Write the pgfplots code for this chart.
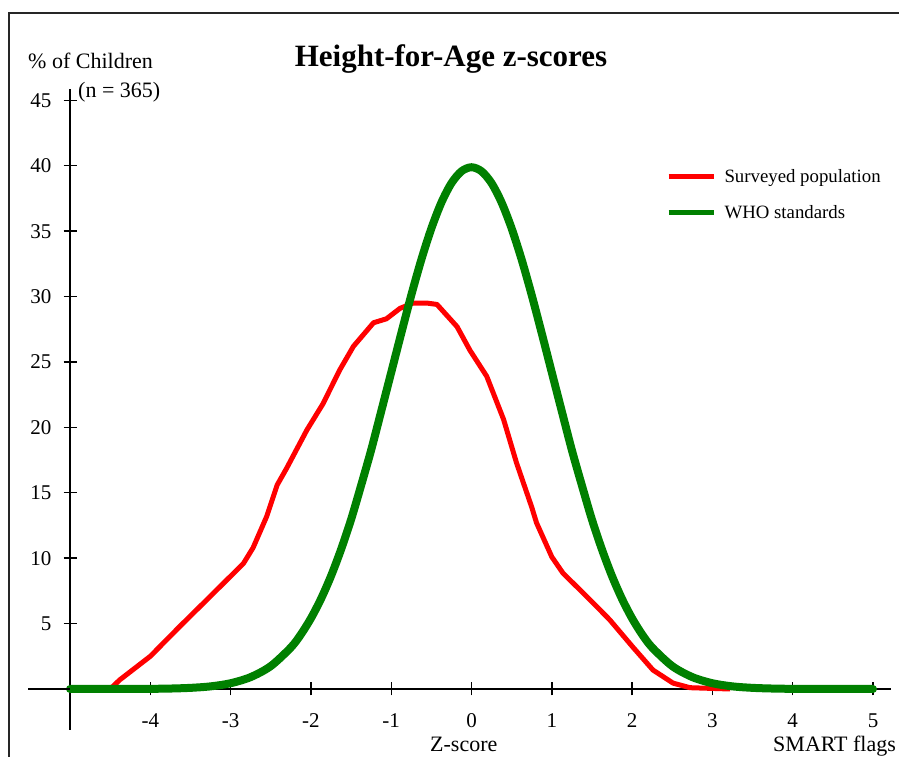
\documentclass[border=0pt]{standalone}
\usepackage{fontspec}
\setmainfont{Liberation Serif}
\usepackage{pgfplots}
\pgfplotsset{compat=1.18}
\definecolor{survred}{RGB}{255,0,0}
\definecolor{whogreen}{RGB}{0,128,0}
\begin{document}
\begin{tikzpicture}[x=1pt,y=1pt]
\path[use as bounding box] (0,0) rectangle (899,757);
% frame
\draw[line width=2pt, black!85] (8.5,0) -- (8.5,744) -- (899,744);
\begin{axis}[
  at={(471.5pt,68pt)}, anchor=origin,
  x=80.3pt, y=13.08pt,
  xmin=-5, xmax=5.22, ymin=-3.13, ymax=45.87,
  axis x line=middle, axis y line=left,
  axis line style={-, line width=1.6pt, black},
  clip=false,
  xtick={-4,-3,-2,-1,0,1,2,3,4,5},
  ytick={5,10,15,20,25,30,35,40,45},
  minor tick num=0,
  tick align=center,
  major tick length=13pt,
  tick style={line width=1.4pt, black},
  ticklabel style={font=\fontsize{21}{24}\selectfont},
  xticklabel style={yshift=-15pt},
  yticklabel style={xshift=-8.5pt},
  /pgf/number format/assume math mode=true,
  legend style={at={(axis cs:2.42,37.8)}, anchor=west, draw=none, fill=none,
    font=\fontsize{18.8}{22}\selectfont, row sep=17pt, inner sep=0pt},
  legend cell align=left,
  legend image code/.code={\draw[#1, line width=5pt, line cap=butt] (0pt,0pt) -- (45pt,0pt);
    \path (50pt,0pt);},
]
\addplot[survred, line width=5pt, line join=round] coordinates {
(-4.50,0) (-4.38,0.7) (-4.00,2.5) (-3.63,4.8) (-3.25,7.1) (-2.84,9.6)
(-2.72,10.8) (-2.55,13.2) (-2.42,15.6) (-2.30,16.9) (-2.05,19.8)
(-1.85,21.8) (-1.64,24.4) (-1.47,26.2) (-1.22,28.0) (-1.06,28.3)
(-0.89,29.1) (-0.73,29.5) (-0.55,29.5) (-0.43,29.4) (-0.18,27.7)
(-0.02,25.9) (0.19,23.9) (0.40,20.6) (0.56,17.3) (0.75,13.9) (0.81,12.7)
(1.00,10.1) (1.14,8.85) (1.43,7.1) (1.72,5.3) (2.01,3.2) (2.26,1.45)
(2.51,0.45) (2.72,0.1) (3.22,0)
};
\addlegendentry{Surveyed population}
\addplot[whogreen, line width=8pt, smooth, line cap=round] coordinates {
(-5,0) (-4.5,0.002) (-4,0.013) (-3.75,0.035) (-3.5,0.087) (-3.25,0.20)
(-3,0.44) (-2.75,0.91) (-2.5,1.75) (-2.25,3.17) (-2.125,4.17) (-2,5.40)
(-1.875,6.88) (-1.75,8.63) (-1.625,10.66) (-1.5,12.95) (-1.375,15.56)
(-1.25,18.26) (-1.125,21.22) (-1,24.20) (-0.875,27.19) (-0.75,30.11)
(-0.625,32.82) (-0.5,35.21) (-0.375,37.19) (-0.25,38.67) (-0.125,39.58)
(0,39.89) (0.125,39.58) (0.25,38.67) (0.375,37.19) (0.5,35.21)
(0.625,32.82) (0.75,30.11) (0.875,27.19) (1,24.20) (1.125,21.22)
(1.25,18.26) (1.375,15.56) (1.5,12.95) (1.625,10.66) (1.75,8.63)
(1.875,6.88) (2,5.40) (2.125,4.17) (2.25,3.17) (2.5,1.75) (2.75,0.91)
(3,0.44) (3.25,0.20) (3.5,0.087) (3.75,0.035) (4,0.013) (4.5,0.002) (5,0)
};
\addlegendentry{WHO standards}
% x axis line continues left of the y axis
\draw[line width=1.6pt, black] (axis cs:-5.52,0) -- (axis cs:-5,0);
\end{axis}
\node[anchor=base, inner sep=0pt] at (451,690)
  {\fontsize{31}{36}\selectfont\bfseries Height-for-Age z-scores};
\node[anchor=base west, inner sep=0pt] at (28,688)
  {\fontsize{22}{26}\selectfont \% of Children};
\node[anchor=base west, inner sep=0pt] at (78,659)
  {\fontsize{22}{26}\selectfont (n = 365)};
\node[anchor=base west, inner sep=0pt] at (430,5.5)
  {\fontsize{22}{26}\selectfont Z-score};
\node[anchor=base west, inner sep=0pt] at (773,5.5)
  {\fontsize{22}{26}\selectfont SMART flags};
\end{tikzpicture}
\end{document}
